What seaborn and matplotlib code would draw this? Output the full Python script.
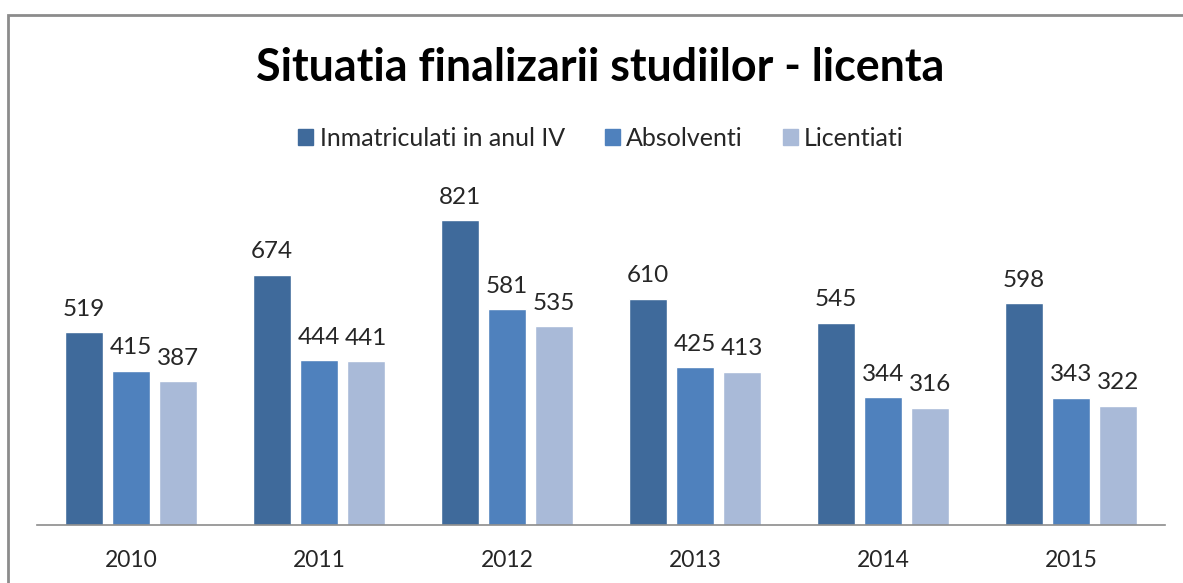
import pandas as pd
import matplotlib.pyplot as plt
import seaborn as sns
from matplotlib.patches import Rectangle

years = ['2010', '2011', '2012', '2013', '2014', '2015']
inmatriculati = [519, 674, 821, 610, 545, 598]
absolventi = [415, 444, 581, 425, 344, 343]
licentiati = [387, 441, 535, 413, 316, 322]
series_names = ['Inmatriculati in anul IV', 'Absolventi', 'Licentiati']
colors = ['#3F6A9B', '#4F81BD', '#A9BAD8']

df = pd.DataFrame({'An': years * 3,
                   'Valoare': inmatriculati + absolventi + licentiati,
                   'Serie': [s for s in series_names for _ in years]})

sns.set_style("white")
plt.rcParams['font.family'] = ['Lato', 'DejaVu Sans']

fig = plt.figure(figsize=(11.83, 5.83), dpi=100)
ax = fig.add_axes([37 / 1183, 58 / 583, 1128 / 1183, 334 / 583])

sns.barplot(data=df, x='An', y='Valoare', hue='Serie', palette=colors,
            width=0.75, gap=0.21, ax=ax, saturation=1, legend=False)

for c in ax.containers:
    ax.bar_label(c, padding=9, fontsize=17.5, color='#262626')

ax.set_ylim(0, 900)
ax.set_xlim(-0.5, 5.5)
ax.set_xlabel('')
ax.set_ylabel('')
ax.set_yticks([])
ax.tick_params(axis='x', length=0, labelsize=16.5, pad=18, labelcolor='#262626')
for s in ['top', 'right', 'left']:
    ax.spines[s].set_visible(False)
ax.spines['bottom'].set_color('#8C8C8C')
ax.spines['bottom'].set_linewidth(1.2)

fig.text(0.507, 1 - 68 / 583, 'Situatia finalizarii studiilor - licenta',
         ha='center', va='center', fontsize=32.3, fontweight='bold', color='black')

handles = [Rectangle((0, 0), 1, 1, color=c) for c in colors]
fig.legend(handles, series_names, loc='center', bbox_to_anchor=(0.508, 1 - 138 / 583),
           ncol=3, frameon=False, fontsize=18, handlelength=0.6, handleheight=0.6,
           handletextpad=0.25, columnspacing=1.6, labelcolor='#262626')

fig.patches.append(Rectangle((8 / 1183, -0.1), 1.2, 1 - 15 / 583 + 0.1,
                             transform=fig.transFigure, fill=False,
                             edgecolor='#8C8C8C', linewidth=2))

fig.savefig('out.png', dpi=100)
